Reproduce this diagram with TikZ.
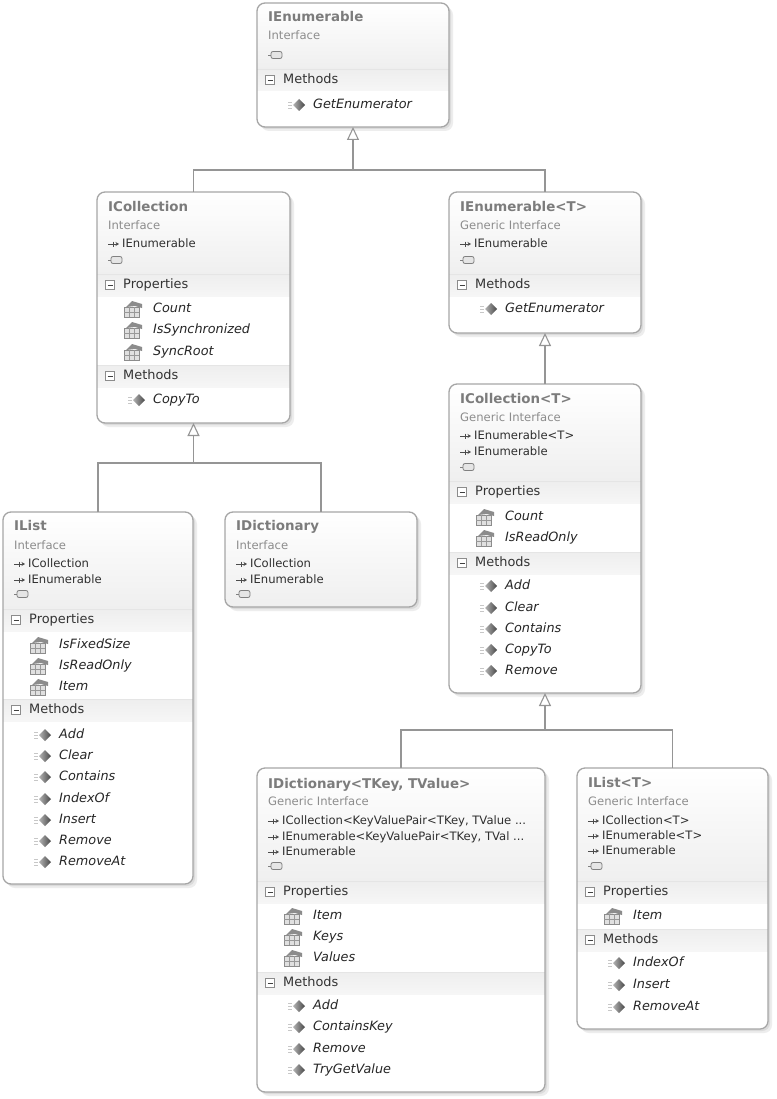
\documentclass[tikz,border=0pt]{standalone}
\usepackage{fontspec}
\setmainfont{DejaVu Sans}
\usetikzlibrary{arrows.meta}
\definecolor{framec}{HTML}{A6A6A6}
\definecolor{connc}{HTML}{959595}
\definecolor{ttlc}{HTML}{7C7C7C}
\definecolor{subc}{HTML}{8C8C8C}
\definecolor{basc}{HTML}{2E2E2E}
\definecolor{secc}{HTML}{333333}
\definecolor{itmc}{HTML}{262626}
\definecolor{hdrc}{HTML}{EFEFEF}
\definecolor{bandc}{HTML}{EEEEEE}
\definecolor{bandb}{HTML}{F6F6F6}
\tikzset{
  boxframe/.style={draw=framec, line width=1.3pt, rounded corners=8pt, inner sep=0pt, outer sep=0pt, fill=none},
  ttl/.style={font=\bfseries\fontsize{13.4}{15}\selectfont, text=ttlc, anchor=mid west, inner sep=0pt},
  sub/.style={font=\fontsize{11.6}{13}\selectfont, text=subc, anchor=mid west, inner sep=0pt},
  bas/.style={font=\fontsize{11.6}{13}\selectfont, text=basc, anchor=mid west, inner sep=0pt},
  sec/.style={font=\fontsize{12.9}{14}\selectfont, text=secc, anchor=mid west, inner sep=0pt},
  itm/.style={font=\itshape\fontsize{12.8}{14}\selectfont, text=itmc, anchor=mid west, inner sep=0pt},
  conn/.style={draw=connc, line width=1.1pt},
  inh/.style={-{Triangle[open, length=13pt, width=12pt, fill=white]}},
  icon/.style={draw=black!50, line width=0.8pt},
}
% background of a box: L T W H headerheight
\newcommand\boxbg[5]{%
  \fill[black!7, rounded corners=8pt] ({#1+4},{#2+4}) rectangle ++(#3,#4);
  \fill[black!14, rounded corners=8pt] ({#1+2},{#2+2}) rectangle ++(#3,#4);
  \begin{scope}
    \clip[rounded corners=8pt] (#1,#2) rectangle ++(#3,#4);
    \fill[white] (#1,#2) rectangle ++(#3,#4);
    \shade[top color=white, bottom color=hdrc] (#1,#2) rectangle ++(#3,#5);
  \end{scope}}
% frame node: name L T W H
\newcommand\boxfr[5]{%
  \node[boxframe, minimum width=#4pt, minimum height=#5pt] (#1) at ({#2+#4/2},{#3+#5/2}) {};}
% title / subtitle: name L y text
\newcommand\btitle[4]{\node[ttl] (#1) at ({#2+11},{#3+1}) {#4};}
\newcommand\bsub[4]{\node[sub] (#1) at ({#2+11},{#3+1}) {#4};}
% base type: name L y text
\newcommand\bbase[4]{%
  \draw[black!70, line width=0.9pt, -{Stealth[length=3.5pt,width=4pt]}] ({#2+11},{#3}) -- ({#2+22},{#3});
  \draw[black!70, line width=0.8pt] ({#2+16},{#3-2.5}) -- ({#2+16},{#3+2.5});
  \node[bas] (#1) at ({#2+25},{#3+1}) {#4};}
% interface lollipop: L y
\newcommand\blolly[2]{%
  \draw[icon] ({#1+11},{#2}) -- ({#1+14},{#2});
  \draw[icon, fill=black!10, rounded corners=2pt] ({#1+14},{#2-3.5}) rectangle ({#1+25},{#2+3.5});}
% section band: name L W y label
\newcommand\bband[5]{%
  \shade[top color=bandc, bottom color=bandb] ({#2},{#4-11}) rectangle ++(#3,22);
  \draw[black!10, line width=0.6pt] ({#2},{#4-11}) -- ++(#3,0);
  \draw[black!45, fill=white, line width=0.7pt] ({#2+8.5},{#4-4.5}) rectangle ({#2+17.5},{#4+4.5});
  \draw[black!75, line width=0.9pt] ({#2+10.5},{#4}) -- ({#2+15.5},{#4});
  \node[sec] (#1) at ({#2+26},{#4+1}) {#5};}
% method item: name L y text
\newcommand\bmeth[4]{%
  \draw[black!22, line width=0.7pt] ({#2+31},{#3-3}) -- ({#2+35},{#3-3});
  \draw[black!22, line width=0.7pt] ({#2+31},{#3}) -- ({#2+35},{#3});
  \draw[black!22, line width=0.7pt] ({#2+31},{#3+3}) -- ({#2+35},{#3+3});
  \shade[left color=black!30, right color=black!72] ({#2+36},{#3}) -- ({#2+42},{#3-6}) -- ({#2+48},{#3}) -- ({#2+42},{#3+6}) -- cycle;
  \node[itm] (#1) at ({#2+56},{#3+1}) {#4};}
% property item: name L y text
\newcommand\bprop[4]{%
  \fill[black!12] ({#2+27},{#3-2}) rectangle ({#2+42},{#3+8});
  \draw[black!45, line width=0.6pt] ({#2+27},{#3-2}) rectangle ({#2+42},{#3+8});
  \draw[black!40, line width=0.5pt] ({#2+32},{#3-2}) -- ({#2+32},{#3+8}) ({#2+37},{#3-2}) -- ({#2+37},{#3+8}) ({#2+27},{#3+3}) -- ({#2+42},{#3+3});
  \fill[black!45] ({#2+29},{#3-2}) -- ({#2+35},{#3-8}) -- ({#2+45},{#3-5}) -- ({#2+45},{#3-1}) -- ({#2+38},{#3-3}) -- cycle;
  \node[itm] (#1) at ({#2+56},{#3+1}) {#4};}

\begin{document}
\begin{tikzpicture}[x=1pt,y=-1pt]
\useasboundingbox (0,0) rectangle (776,1099);
\fill[white] (0,0) rectangle (776,1099);

% ---------- IEnumerable
\boxbg{257}{3}{192}{124}{66}
\btitle{e1t}{257}{18}{IEnumerable}
\bsub{e1s}{257}{36}{Interface}
\blolly{257}{55}
\bband{e1b1}{257}{192}{80}{Methods}
\bmeth{e1m1}{257}{105}{GetEnumerator}
\boxfr{e1}{257}{3}{192}{124}

% ---------- ICollection
\boxbg{97}{192}{193}{231}{82}
\btitle{c1t}{97}{208}{ICollection}
\bsub{c1s}{97}{226}{Interface}
\bbase{c1a1}{97}{244}{IEnumerable}
\blolly{97}{260}
\bband{c1b1}{97}{193}{285}{Properties}
\bprop{c1p1}{97}{309}{Count}
\bprop{c1p2}{97}{330}{IsSynchronized}
\bprop{c1p3}{97}{352}{SyncRoot}
\bband{c1b2}{97}{193}{376}{Methods}
\bmeth{c1m1}{97}{400}{CopyTo}
\boxfr{c1}{97}{192}{193}{231}

% ---------- IEnumerable<T>
\boxbg{449}{192}{192}{141}{82}
\btitle{e2t}{449}{208}{IEnumerable<T>}
\bsub{e2s}{449}{226}{Generic Interface}
\bbase{e2a1}{449}{244}{IEnumerable}
\blolly{449}{260}
\bband{e2b1}{449}{192}{285}{Methods}
\bmeth{e2m1}{449}{309}{GetEnumerator}
\boxfr{e2}{449}{192}{192}{141}

% ---------- ICollection<T>
\boxbg{449}{384}{192}{309}{97}
\btitle{c2t}{449}{400}{ICollection<T>}
\bsub{c2s}{449}{418}{Generic Interface}
\bbase{c2a1}{449}{436}{IEnumerable<T>}
\bbase{c2a2}{449}{452}{IEnumerable}
\blolly{449}{467}
\bband{c2b1}{449}{192}{492}{Properties}
\bprop{c2p1}{449}{517}{Count}
\bprop{c2p2}{449}{538}{IsReadOnly}
\bband{c2b2}{449}{192}{563}{Methods}
\bmeth{c2m1}{449}{586}{Add}
\bmeth{c2m2}{449}{608}{Clear}
\bmeth{c2m3}{449}{629}{Contains}
\bmeth{c2m4}{449}{650}{CopyTo}
\bmeth{c2m5}{449}{671}{Remove}
\boxfr{c2}{449}{384}{192}{309}

% ---------- IList
\boxbg{3}{512}{190}{372}{97}
\btitle{l1t}{3}{527}{IList}
\bsub{l1s}{3}{546}{Interface}
\bbase{l1a1}{3}{564}{ICollection}
\bbase{l1a2}{3}{580}{IEnumerable}
\blolly{3}{594}
\bband{l1b1}{3}{190}{620}{Properties}
\bprop{l1p1}{3}{645}{IsFixedSize}
\bprop{l1p2}{3}{666}{IsReadOnly}
\bprop{l1p3}{3}{687}{Item}
\bband{l1b2}{3}{190}{710}{Methods}
\bmeth{l1m1}{3}{735}{Add}
\bmeth{l1m2}{3}{756}{Clear}
\bmeth{l1m3}{3}{777}{Contains}
\bmeth{l1m4}{3}{799}{IndexOf}
\bmeth{l1m5}{3}{820}{Insert}
\bmeth{l1m6}{3}{841}{Remove}
\bmeth{l1m7}{3}{862}{RemoveAt}
\boxfr{l1}{3}{512}{190}{372}

% ---------- IDictionary
\boxbg{225}{512}{192}{95}{95}
\btitle{d1t}{225}{527}{IDictionary}
\bsub{d1s}{225}{546}{Interface}
\bbase{d1a1}{225}{564}{ICollection}
\bbase{d1a2}{225}{580}{IEnumerable}
\blolly{225}{594}
\boxfr{d1}{225}{512}{192}{95}

% ---------- IDictionary<TKey, TValue>
\boxbg{257}{768}{288}{324}{113}
\btitle{d2t}{257}{785}{IDictionary<TKey, TValue>}
\bsub{d2s}{257}{802}{Generic Interface}
\bbase{d2a1}{257}{821}{ICollection<KeyValuePair<TKey, TValue ...}
\bbase{d2a2}{257}{837}{IEnumerable<KeyValuePair<TKey, TVal ...}
\bbase{d2a3}{257}{852}{IEnumerable}
\blolly{257}{866}
\bband{d2b1}{257}{288}{892}{Properties}
\bprop{d2p1}{257}{916}{Item}
\bprop{d2p2}{257}{937}{Keys}
\bprop{d2p3}{257}{958}{Values}
\bband{d2b2}{257}{288}{983}{Methods}
\bmeth{d2m1}{257}{1006}{Add}
\bmeth{d2m2}{257}{1027}{ContainsKey}
\bmeth{d2m3}{257}{1049}{Remove}
\bmeth{d2m4}{257}{1070}{TryGetValue}
\boxfr{d2}{257}{768}{288}{324}

% ---------- IList<T>
\boxbg{577}{768}{191}{261}{113}
\btitle{l2t}{577}{784}{IList<T>}
\bsub{l2s}{577}{802}{Generic Interface}
\bbase{l2a1}{577}{821}{ICollection<T>}
\bbase{l2a2}{577}{836}{IEnumerable<T>}
\bbase{l2a3}{577}{851}{IEnumerable}
\blolly{577}{866}
\bband{l2b1}{577}{191}{892}{Properties}
\bprop{l2p1}{577}{916}{Item}
\bband{l2b2}{577}{191}{940}{Methods}
\bmeth{l2m1}{577}{963}{IndexOf}
\bmeth{l2m2}{577}{985}{Insert}
\bmeth{l2m3}{577}{1007}{RemoveAt}
\boxfr{l2}{577}{768}{191}{261}

% ---------- connectors
\coordinate (j1) at (353,170);
\coordinate (j2) at (193.5,463);
\coordinate (j3) at (545,730);
\draw[conn] (c1.north) |- (j1) -| (e2.north);
\draw[conn,inh] (j1) -- (e1.south -| j1);
\draw[conn,inh] (c2.north) -- (e2.south);
\draw[conn] (l1.north) |- (j2) -| (d1.north);
\draw[conn,inh] (j2) -- (c1.south);
\draw[conn] (d2.north) |- (j3) -| (l2.north);
\draw[conn,inh] (j3) -- (c2.south);
\end{tikzpicture}
\end{document}
